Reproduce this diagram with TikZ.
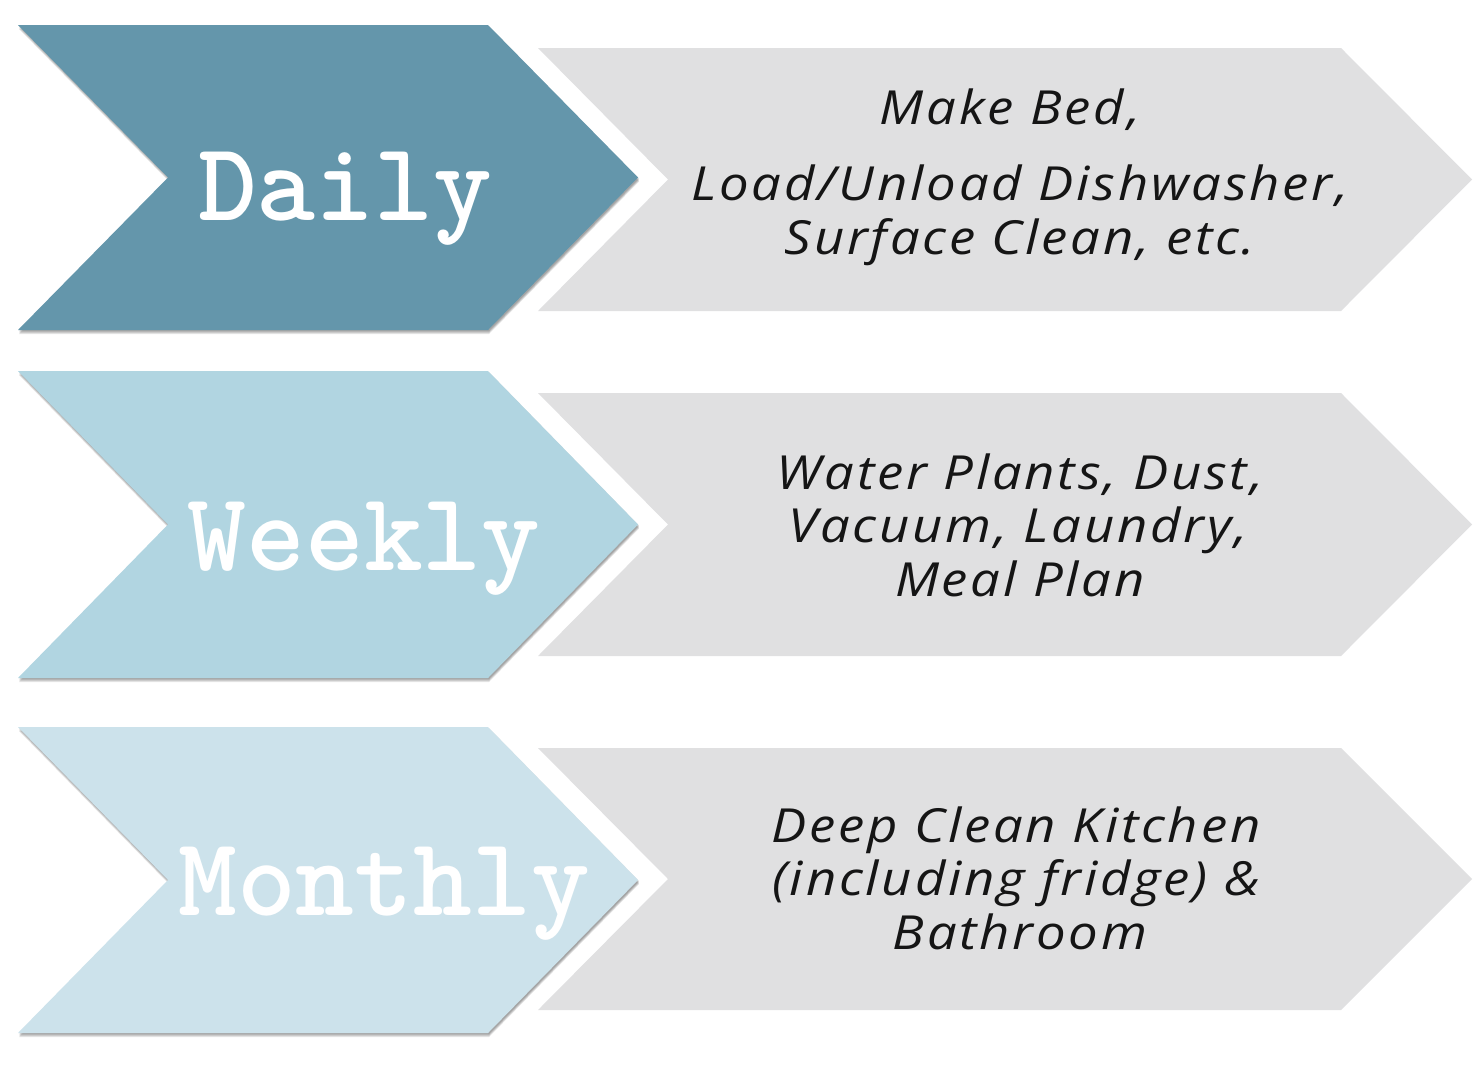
\documentclass[tikz,border=0pt]{standalone}
\usepackage{fontspec}
\newfontfamily\handfont{Open Sans}[FakeStretch=1.12, LetterSpace=6]
\definecolor{dailyc}{HTML}{6496AB}
\definecolor{weeklyc}{HTML}{B1D5E1}
\definecolor{monthlyc}{HTML}{CCE2EB}
\definecolor{grayc}{HTML}{E0E0E1}
\definecolor{textc}{HTML}{151515}
\tikzset{
  biglabel/.style={text=white, font=\ttfamily\bfseries\fontsize{112}{116}\selectfont, anchor=base, inner sep=0pt},
  tasktext/.style={text=textc, font=\handfont\itshape\fontsize{47}{53}\selectfont, align=center, anchor=base, inner sep=0pt},
  shadowfill/.style={fill=black, opacity=0.10},
}
% #1 left x, #2 flat x, #3 tip x, #4 top y, #5 bottom y, #6 notch x
\newcommand\chevpath[6]{(#1,#4) -- (#2,#4) -- (#3,{(#4+#5)/2}) -- (#2,#5) -- (#1,#5) -- (#6,{(#4+#5)/2}) -- cycle}
\begin{document}
\begin{tikzpicture}[x=1pt,y=-1pt]
\useasboundingbox (0,0) rectangle (1482,1077);
\fill[white] (0,0) rectangle (1482,1077);
% shadows for coloured chevrons
\foreach \ya/\yb in {25/330, 371/678, 727/1033}{
  \foreach \d in {1,2,3,4}{
    \fill[shadowfill] \chevpath{19}{489}{639}{\ya+\d}{\yb+\d}{169};
  }
}
% coloured chevrons
\fill[dailyc] \chevpath{18}{488}{638}{25}{330}{168};
\fill[weeklyc] \chevpath{18}{488}{638}{371}{678}{168};
\fill[monthlyc] \chevpath{18}{488}{638}{727}{1033}{168};
% gray arrows
\fill[grayc] \chevpath{538}{1341}{1472}{48}{311}{668};
\fill[grayc] \chevpath{538}{1341}{1472}{393}{656}{668};
\fill[grayc] \chevpath{538}{1341}{1472}{748}{1010}{668};
% labels
\node[biglabel] (daily) at (345,220) {Daily};
\node[biglabel] (weekly) at (364,570) {Weekly};
\node[biglabel] (monthly) at (384,915) {Monthly};
% task texts
\node[tasktext] (d1) at (1010,124) {Make Bed,};
\node[tasktext] (d2) at (1020,200) {Load/Unload Dishwasher,};
\node[tasktext] (d3) at (1020,254) {Surface Clean, etc.};
\node[tasktext] (w1) at (1020,489) {Water Plants, Dust,};
\node[tasktext] (w2) at (1018,542) {Vacuum, Laundry,};
\node[tasktext] (w3) at (1020,596) {Meal Plan};
\node[tasktext] (m1) at (1016,842) {Deep Clean Kitchen};
\node[tasktext] (m2) at (1016,895) {(including fridge) \&};
\node[tasktext] (m3) at (1020,949) {Bathroom};
\end{tikzpicture}
\end{document}
